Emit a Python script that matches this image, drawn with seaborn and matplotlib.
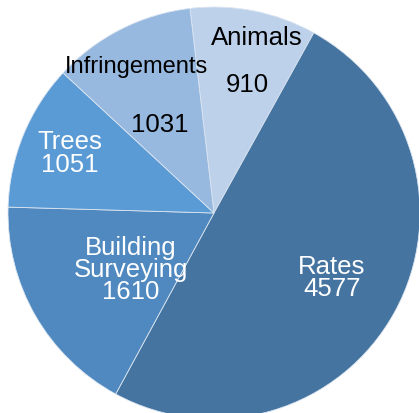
import matplotlib
matplotlib.use("Agg")
import matplotlib.pyplot as plt
import seaborn as sns

# Service request counts by category
categories = ["Animals", "Rates", "Building\nSurveying", "Trees", "Infringements"]
counts = [910, 4577, 1610, 1051, 1031]
colors = ["#bdd1eb", "#44749f", "#4f89bf", "#5b9bd5", "#97b8df"]
text_colors = ["black", "white", "white", "white", "black"]

sns.set_theme(style="white")
plt.rcParams["font.family"] = ["Liberation Sans", "DejaVu Sans"]

W, H = 419, 413
fig = plt.figure(figsize=(W / 100, H / 100), dpi=100)
ax = fig.add_axes([0, 0, 1, 1])

wedges, _ = ax.pie(
    counts,
    colors=colors,
    startangle=96.7,
    counterclock=False,
    radius=1.0,
    wedgeprops=dict(edgecolor="#dbe5f1", linewidth=0.6),
)

# pie centre sits at (214, 213) px with a 206 px radius; the circle overflows the canvas
cx, cy, r = 214, 213, 206
ax.set_xlim(-cx / r, (W - cx) / r)
ax.set_ylim(-(H - cy) / r, cy / r)
ax.set_aspect("auto")
ax.axis("off")

fs = 18.5
# (name position, value position, name size) in axis units; None means value shares the name's block
label_pos = {
    "Animals": ((0.209, 0.850), (0.160, 0.621), fs),
    "Infringements": ((-0.374, 0.709), (-0.262, 0.427), 17),
    "Trees": ((-0.699, 0.289), None, fs),
    "Building\nSurveying": ((-0.403, -0.277), None, fs),
    "Rates": ((0.573, -0.316), None, fs),
}
for cat, val, tc in zip(categories, counts, text_colors):
    npos, vpos, nfs = label_pos[cat]
    if vpos is None:
        ax.text(*npos, f"{cat}\n{val}", ha="center", va="center",
                fontsize=nfs, color=tc, linespacing=0.9)
    else:
        ax.text(*npos, cat, ha="center", va="center", fontsize=nfs, color=tc)
        ax.text(*vpos, str(val), ha="center", va="center", fontsize=fs, color=tc)

fig.savefig("out.png", dpi=100)
